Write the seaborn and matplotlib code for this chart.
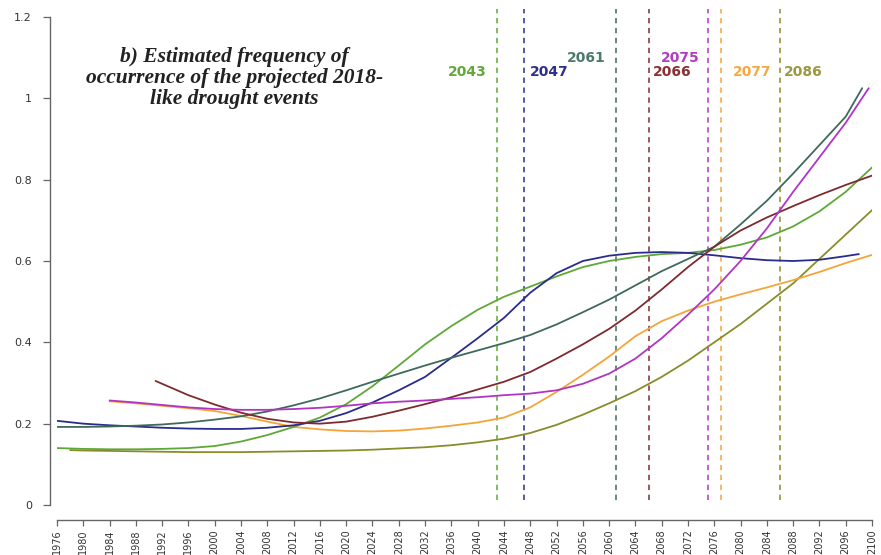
import numpy as np
import pandas as pd
import matplotlib
matplotlib.use("Agg")
import matplotlib.pyplot as plt
import seaborn as sns

# --- data ---
years_green = [1976, 1980, 1984, 1988, 1992, 1996, 2000, 2004, 2008, 2012, 2016, 2020, 2024, 2028,
               2032, 2036, 2040, 2044, 2048, 2052, 2056, 2060, 2064, 2068, 2072, 2076, 2080, 2084,
               2088, 2092, 2096, 2100]
vals_green = [0.140, 0.138, 0.137, 0.137, 0.138, 0.140, 0.145, 0.156, 0.172, 0.192, 0.215, 0.248,
              0.292, 0.343, 0.395, 0.440, 0.480, 0.512, 0.537, 0.562, 0.585, 0.600, 0.610, 0.617,
              0.620, 0.627, 0.640, 0.658, 0.685, 0.722, 0.770, 0.830]

years_blue = [1976, 1980, 1984, 1988, 1992, 1996, 2000, 2004, 2008, 2012, 2016, 2020, 2024, 2028,
              2032, 2036, 2040, 2044, 2048, 2052, 2056, 2060, 2064, 2068, 2072, 2076, 2080, 2084,
              2088, 2092, 2096, 2098]
vals_blue = [0.207, 0.200, 0.196, 0.193, 0.190, 0.188, 0.187, 0.187, 0.190, 0.196, 0.207, 0.226,
             0.252, 0.282, 0.315, 0.362, 0.410, 0.460, 0.522, 0.570, 0.600, 0.613, 0.620, 0.622,
             0.620, 0.614, 0.607, 0.602, 0.600, 0.603, 0.612, 0.617]

years_teal = [1976, 1980, 1984, 1988, 1992, 1996, 2000, 2004, 2008, 2012, 2016, 2020, 2024, 2028,
              2032, 2036, 2040, 2044, 2048, 2052, 2056, 2060, 2064, 2068, 2072, 2076, 2080, 2084,
              2088, 2092, 2096, 2098.5]
vals_teal = [0.192, 0.192, 0.193, 0.195, 0.198, 0.203, 0.210, 0.218, 0.230, 0.245, 0.262, 0.282,
             0.303, 0.323, 0.343, 0.362, 0.380, 0.398, 0.418, 0.444, 0.474, 0.505, 0.540, 0.575,
             0.605, 0.635, 0.690, 0.748, 0.815, 0.885, 0.955, 1.025]

years_brown = [1991, 1992, 1996, 2000, 2004, 2008, 2012, 2016, 2020, 2024, 2028, 2032, 2036, 2040,
               2044, 2048, 2052, 2056, 2060, 2064, 2068, 2072, 2076, 2080, 2084, 2088, 2092, 2096,
               2100]
vals_brown = [0.305, 0.298, 0.270, 0.247, 0.227, 0.212, 0.203, 0.200, 0.205, 0.217, 0.232, 0.248,
              0.265, 0.284, 0.303, 0.327, 0.360, 0.395, 0.433, 0.478, 0.530, 0.585, 0.635, 0.675,
              0.707, 0.735, 0.762, 0.787, 0.810]

years_purple = [1984, 1988, 1992, 1996, 2000, 2004, 2008, 2012, 2016, 2020, 2024, 2028, 2032, 2036,
                2040, 2044, 2048, 2052, 2056, 2060, 2064, 2068, 2072, 2076, 2080, 2084, 2088, 2092,
                2096, 2099.5]
vals_purple = [0.257, 0.252, 0.246, 0.240, 0.236, 0.234, 0.234, 0.236, 0.239, 0.244, 0.250, 0.254,
               0.257, 0.261, 0.265, 0.270, 0.274, 0.282, 0.298, 0.323, 0.360, 0.410, 0.468, 0.530,
               0.600, 0.680, 0.770, 0.855, 0.940, 1.025]

years_orange = [1984, 1988, 1992, 1996, 2000, 2004, 2008, 2012, 2016, 2020, 2024, 2028, 2032, 2036,
                2040, 2044, 2048, 2052, 2056, 2060, 2064, 2068, 2072, 2076, 2080, 2084, 2088, 2092,
                2096, 2100]
vals_orange = [0.255, 0.250, 0.244, 0.238, 0.231, 0.219, 0.205, 0.192, 0.186, 0.182, 0.181, 0.183,
               0.188, 0.195, 0.203, 0.215, 0.240, 0.278, 0.320, 0.365, 0.415, 0.452, 0.478, 0.500,
               0.518, 0.535, 0.553, 0.573, 0.595, 0.615]

years_olive = [1978, 1980, 1984, 1988, 1992, 1996, 2000, 2004, 2008, 2012, 2016, 2020, 2024, 2028,
               2032, 2036, 2040, 2044, 2048, 2052, 2056, 2060, 2064, 2068, 2072, 2076, 2080, 2084,
               2088, 2092, 2096, 2100]
vals_olive = [0.135, 0.134, 0.133, 0.132, 0.131, 0.130, 0.130, 0.130, 0.131, 0.132, 0.133, 0.134,
              0.136, 0.139, 0.142, 0.147, 0.154, 0.163, 0.177, 0.197, 0.222, 0.250, 0.280, 0.315,
              0.355, 0.400, 0.445, 0.495, 0.545, 0.605, 0.665, 0.725]

series_names = ["green", "blue", "teal", "brown", "purple", "orange", "olive"]
series_colors = ["#5fa838", "#2a2c8c", "#3e6a5c", "#7e2a2e", "#b035c4", "#f4a53a", "#8a8c2a"]
draw_order = ["olive", "orange", "green", "blue", "teal", "brown", "purple"]
event_years = [2043, 2047, 2061, 2066, 2075, 2077, 2086]
label_colors = ["#62a838", "#2e308e", "#4c7a6a", "#8a3034", "#b23cc2", "#f4aa44", "#9a9840"]

tick_years = list(range(1976, 2101, 4))
y_ticks = [0, 0.2, 0.4, 0.6, 0.8, 1.0, 1.2]
y_tick_labels = ["0", "0.2", "0.4", "0.6", "0.8", "1", "1.2"]

title_text = "b) Estimated frequency of\noccurrence of the projected 2018-\nlike drought events"

# --- build long table for seaborn ---
all_years = [years_green, years_blue, years_teal, years_brown, years_purple, years_orange, years_olive]
all_vals = [vals_green, vals_blue, vals_teal, vals_brown, vals_purple, vals_orange, vals_olive]
frames = []
for name, yrs, vals in zip(series_names, all_years, all_vals):
    frames.append(pd.DataFrame({"year": yrs, "freq": vals, "series": name}))
df = pd.concat(frames, ignore_index=True)

sns.set_style("white")

W, H = 881, 555
fig = plt.figure(figsize=(W / 100, H / 100), dpi=100)
fig.patch.set_facecolor("white")
ax = fig.add_axes([57 / W, (H - 505) / H, 815 / W, 488 / H])

sns.lineplot(data=df, x="year", y="freq", hue="series", hue_order=draw_order,
             palette=dict(zip(series_names, series_colors)), linewidth=1.3,
             legend=False, ax=ax, sort=True, estimator=None)

ax.set_xlim(1976, 2100)
ax.set_ylim(0, 1.2)

# dashed event lines and their labels
label_y = [1.065, 1.065, 1.10, 1.065, 1.10, 1.065, 1.065]
label_side = ["right", "left", "right", "left", "right", "left", "left"]
label_dx = [-1.6, 1.0, -1.6, 0.6, -1.2, 1.8, 0.6]
for yr, col, lc, ly, side, dx in zip(event_years, series_colors, label_colors, label_y,
                                     label_side, label_dx):
    ax.plot([yr, yr], [0.012, 1.22], ls=(0, (3.5, 3)), color=col, lw=1.1, clip_on=False, zorder=1)
    ax.text(yr + dx, ly, str(yr), color=lc, fontsize=10, fontweight="bold",
            ha=side, va="center", family="DejaVu Sans")

ax.text(2003.0, 1.05, title_text, ha="center", va="center", fontsize=15.5,
        fontweight="bold", style="italic", family="Liberation Serif",
        color="#222222", linespacing=1.05)

# R-like detached axes
for s in ["top", "right"]:
    ax.spines[s].set_visible(False)
ax.spines["left"].set_position(("outward", 5))
ax.spines["bottom"].set_position(("outward", 11))
ax.spines["left"].set_bounds(0, 1.2)
ax.spines["bottom"].set_bounds(1976, 2100)
for s in ["left", "bottom"]:
    ax.spines[s].set_color("#666666")
    ax.spines[s].set_linewidth(1.0)

ax.set_yticks(y_ticks)
ax.set_yticklabels(y_tick_labels)
ax.set_xticks(tick_years)
ax.set_xticklabels([str(t) for t in tick_years], rotation=90)
ax.tick_params(axis="y", length=5, width=0.9, color="#666666", labelsize=8,
               labelcolor="#333333", left=True, pad=8)
ax.tick_params(axis="x", length=4.5, width=0.9, color="#666666", labelsize=7,
               labelcolor="#333333", bottom=True, pad=2)
ax.set_xlabel("")
ax.set_ylabel("")
ax.grid(False)

fig.savefig("out.png", dpi=100, facecolor="white")
plt.close(fig)
